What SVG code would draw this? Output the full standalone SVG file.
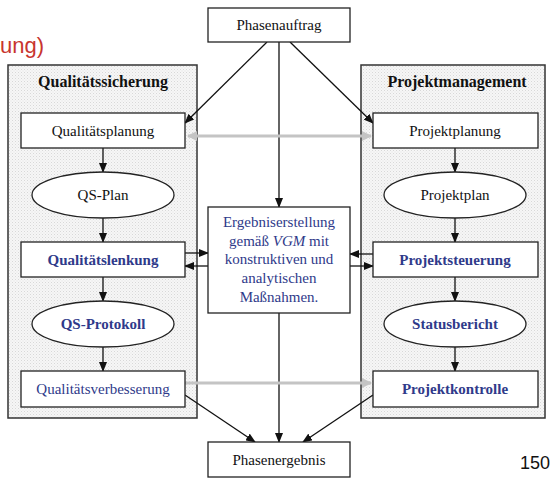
<svg xmlns="http://www.w3.org/2000/svg" width="557" height="484" viewBox="0 0 557 484">
<style>
.box{fill:#fff;stroke:#222;stroke-width:1.3}
.cont{fill:url(#dots);stroke:#333;stroke-width:1.5}
text.t{font-family:'Liberation Serif','Times New Roman','DejaVu Serif',serif;font-size:15px;fill:#111;text-anchor:middle}
text.b{font-weight:bold}
text.h{font-size:16px}
text.blue{fill:#2f3a8a}
.ln{stroke:#111;stroke-width:1.3;fill:none}
.gr{stroke:#c4c4c4;stroke-width:3;fill:none}
</style>
<defs>
<pattern id="dots" width="3" height="3" patternUnits="userSpaceOnUse">
<rect width="3" height="3" fill="#f6f6f6"/>
<rect x="0" y="0" width="1" height="1" fill="#d8d8d8"/>
<rect x="1.5" y="1.5" width="1" height="1" fill="#e4e4e4"/>
</pattern>
<marker id="ah" markerWidth="10" markerHeight="8" refX="9" refY="4" orient="auto" markerUnits="userSpaceOnUse">
<path d="M0,0 L10,4 L0,8 z" fill="#111"/>
</marker>
<marker id="ahg" markerWidth="10" markerHeight="10" refX="9" refY="5" orient="auto" markerUnits="userSpaceOnUse">
<path d="M0,0 L10,5 L0,10 z" fill="#c4c4c4"/>
</marker>
<marker id="ahgs" markerWidth="10" markerHeight="10" refX="1" refY="5" orient="auto" markerUnits="userSpaceOnUse">
<path d="M10,0 L0,5 L10,10 z" fill="#c4c4c4"/>
</marker>
</defs>

<text x="0" y="53" font-family="'Liberation Sans', Arial, sans-serif" font-size="22" fill="#c8352e">ung)</text>
<text x="535" y="469" font-family="'Liberation Sans', Arial, sans-serif" font-size="18" fill="#111" text-anchor="middle">150</text>

<g id="qs-container">
<rect class="cont" x="8" y="65" width="189" height="353"/>
<text class="t b h" x="103" y="87">Qualitätssicherung</text>
</g>
<g id="pm-container">
<rect class="cont" x="361" y="65" width="184" height="353"/>
<text class="t b h" x="457" y="87">Projektmanagement</text>
</g>

<g id="connectors">
<line class="ln" x1="267" y1="42" x2="185" y2="123" marker-end="url(#ah)"/>
<line class="ln" x1="290" y1="42" x2="373" y2="123" marker-end="url(#ah)"/>
<line class="ln" x1="279" y1="42" x2="279" y2="207" marker-end="url(#ah)"/>
<line class="gr" x1="188" y1="136" x2="371" y2="136" marker-start="url(#ahgs)" marker-end="url(#ahg)"/>
<line class="ln" x1="103" y1="148" x2="103" y2="172" marker-end="url(#ah)"/>
<line class="ln" x1="103" y1="218" x2="103" y2="242" marker-end="url(#ah)"/>
<line class="ln" x1="103" y1="277" x2="103" y2="301" marker-end="url(#ah)"/>
<line class="ln" x1="103" y1="347" x2="103" y2="371" marker-end="url(#ah)"/>
<line class="ln" x1="455" y1="148" x2="455" y2="172" marker-end="url(#ah)"/>
<line class="ln" x1="455" y1="218" x2="455" y2="242" marker-end="url(#ah)"/>
<line class="ln" x1="455" y1="277" x2="455" y2="301" marker-end="url(#ah)"/>
<line class="ln" x1="455" y1="347" x2="455" y2="371" marker-end="url(#ah)"/>
<line class="ln" x1="185" y1="253" x2="208" y2="253" marker-end="url(#ah)"/>
<line class="ln" x1="208" y1="266" x2="185" y2="266" marker-end="url(#ah)"/>
<line class="ln" x1="373" y1="254" x2="350" y2="254" marker-end="url(#ah)"/>
<line class="ln" x1="350" y1="266" x2="373" y2="266" marker-end="url(#ah)"/>
<line class="ln" x1="279" y1="313" x2="279" y2="442" marker-end="url(#ah)"/>
<line class="gr" x1="185" y1="383" x2="371" y2="383" marker-end="url(#ahg)"/>
<line class="ln" x1="185" y1="395" x2="255" y2="442" marker-end="url(#ah)"/>
<line class="ln" x1="373" y1="395" x2="303" y2="442" marker-end="url(#ah)"/>
</g>

<g id="phasenauftrag">
<rect class="box" x="208" y="8" width="142" height="34"/>
<text class="t" x="279" y="30">Phasenauftrag</text>
</g>
<g id="qualitaetsplanung">
<rect class="box" x="21" y="113" width="164" height="35"/>
<text class="t" x="103" y="136">Qualitätsplanung</text>
</g>
<g id="projektplanung">
<rect class="box" x="373" y="113" width="165" height="35"/>
<text class="t" x="455" y="136">Projektplanung</text>
</g>
<g id="qs-plan">
<ellipse class="box" cx="103" cy="195" rx="71" ry="23"/>
<text class="t" x="103" y="200">QS-Plan</text>
</g>
<g id="projektplan">
<ellipse class="box" cx="455" cy="195" rx="71" ry="23"/>
<text class="t" x="455" y="200">Projektplan</text>
</g>
<g id="qualitaetslenkung">
<rect class="box" x="21" y="242" width="164" height="35"/>
<text class="t b blue" x="103" y="265">Qualitätslenkung</text>
</g>
<g id="projektsteuerung">
<rect class="box" x="373" y="242" width="165" height="35"/>
<text class="t b blue" x="455" y="265">Projektsteuerung</text>
</g>
<g id="ergebniserstellung">
<rect class="box" x="208" y="207" width="142" height="106"/>
<text class="t blue" x="279" y="227">Ergebniserstellung</text>
<text class="t blue" x="279" y="246">gemäß <tspan font-style="italic">VGM</tspan> mit</text>
<text class="t blue" x="279" y="264">konstruktiven und</text>
<text class="t blue" x="279" y="283">analytischen</text>
<text class="t blue" x="279" y="302">Maßnahmen.</text>
</g>
<g id="qs-protokoll">
<ellipse class="box" cx="103" cy="324" rx="71" ry="23"/>
<text class="t b blue" x="103" y="329">QS-Protokoll</text>
</g>
<g id="statusbericht">
<ellipse class="box" cx="455" cy="324" rx="71" ry="23"/>
<text class="t b blue" x="455" y="329">Statusbericht</text>
</g>
<g id="qualitaetsverbesserung">
<rect class="box" x="21" y="371" width="164" height="36"/>
<text class="t blue" x="103" y="394">Qualitätsverbesserung</text>
</g>
<g id="projektkontrolle">
<rect class="box" x="373" y="371" width="165" height="36"/>
<text class="t b blue" x="455" y="394">Projektkontrolle</text>
</g>
<g id="phasenergebnis">
<rect class="box" x="208" y="442" width="142" height="35"/>
<text class="t" x="279" y="465">Phasenergebnis</text>
</g>
</svg>
